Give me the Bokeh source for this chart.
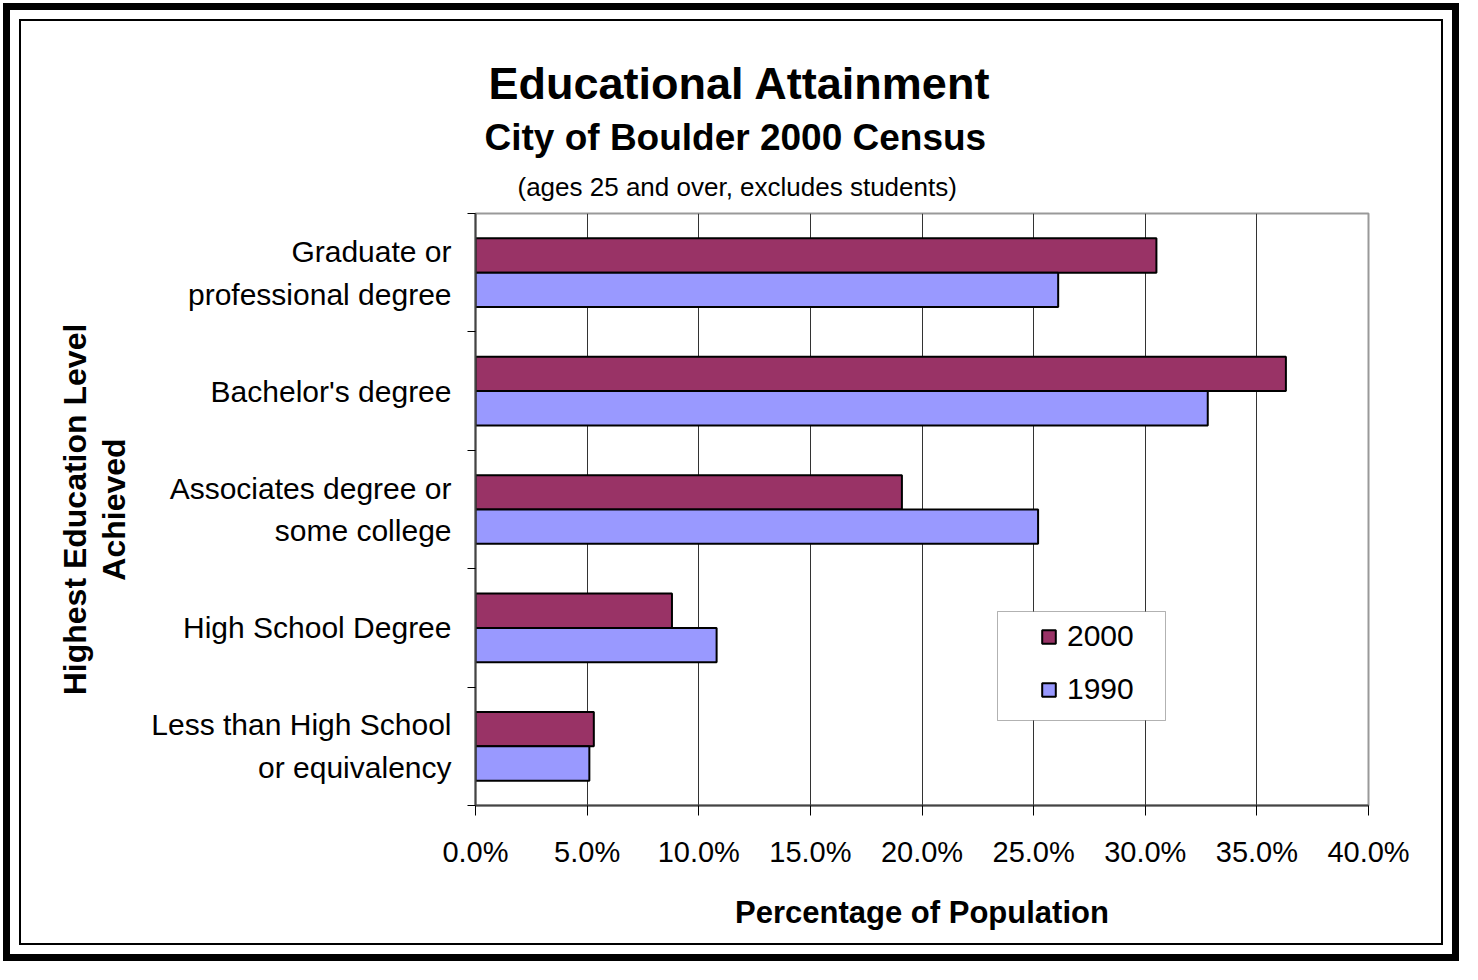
from bokeh.plotting import figure
from bokeh.models import (ColumnDataSource, BoxAnnotation, Legend, LegendItem,
                          FixedTicker, PrintfTickFormatter, Range1d, Title)
from bokeh.embed import file_html
from bokeh.resources import INLINE

# ---------------- data ----------------
categories = [
    "Graduate or\nprofessional degree",
    "Bachelor's degree",
    "Associates degree or\nsome college",
    "High School Degree",
    "Less than High School\nor equivalency",
]
pct_2000 = [30.5, 36.3, 19.1, 8.8, 5.3]
pct_1990 = [26.1, 32.8, 25.2, 10.8, 5.1]
x_ticks = [0, 5, 10, 15, 20, 25, 30, 35, 40]
series_names = ["2000", "1990"]

title_text = "Educational Attainment"
subtitle_text = "City of Boulder 2000 Census"
note_text = "(ages 25 and over, excludes students)"
x_title = "Percentage of Population"
y_title = "Highest Education Level\nAchieved"

FONT = "Liberation Sans"
C2000 = "#993366"
C1990 = "#9999FF"

W, H = 1462, 964
FL, FR, FT, FB = 475, 1368, 213, 805
XMAX, NCAT = 40, len(categories)

p = figure(width=W, height=H, output_backend="svg", toolbar_location=None,
           x_range=Range1d(0, XMAX), y_range=Range1d(0, NCAT),
           min_border_left=FL, min_border_right=W - FR,
           min_border_top=FT, min_border_bottom=H - FB)
p.background_fill_color = "white"
p.border_fill_alpha = 0
p.outline_line_color = "#999999"
p.outline_line_width = 2
p.styles = {
    "background-color": "white",
    "box-shadow": ("inset 0 0 0 3px white, inset 0 0 0 10px black, "
                   "inset 0 0 0 19px white, inset 0 0 0 21px black"),
}

px_per_x = (FR - FL) / XMAX
px_per_y = (FB - FT) / NCAT
def dx(px):
    return (px - FL) / px_per_x
def dy(py):
    return (FB - py) / px_per_y

centers = [NCAT - 0.5 - i for i in range(NCAT)]
bar_h = 0.29
src = ColumnDataSource(dict(
    y2000=[c + bar_h / 2 for c in centers],
    y1990=[c - bar_h / 2 for c in centers],
    v2000=pct_2000, v1990=pct_1990))

r2000 = p.hbar(y="y2000", left=0, right="v2000", height=bar_h, source=src,
               fill_color=C2000, line_color="black", line_width=2)
r1990 = p.hbar(y="y1990", left=0, right="v1990", height=bar_h, source=src,
               fill_color=C1990, line_color="black", line_width=2)

# x axis
xa = p.xaxis[0]
xa.ticker = FixedTicker(ticks=x_ticks)
xa.formatter = PrintfTickFormatter(format="%.1f%%")
xa.axis_line_color = "#444444"
xa.axis_line_width = 2
xa.major_tick_line_color = "black"
xa.major_tick_out = 10
xa.major_tick_in = 0
xa.minor_tick_line_color = None
xa.major_label_text_font = FONT
xa.major_label_text_font_size = "29px"
xa.major_label_text_color = "black"
xa.major_label_standoff = 20
xa.axis_label = x_title
xa.axis_label_text_font = FONT
xa.axis_label_text_font_size = "31px"
xa.axis_label_text_font_style = "bold"
xa.axis_label_text_color = "black"
xa.axis_label_standoff = 24

# y axis: labels at category centres, minor ticks at category boundaries
ya = p.yaxis[0]
ya.ticker = FixedTicker(ticks=centers, minor_ticks=list(range(NCAT + 1)))
ya.major_label_overrides = {c: categories[i] for i, c in enumerate(centers)}
ya.axis_line_color = "#444444"
ya.axis_line_width = 2
ya.major_tick_line_color = None
ya.major_tick_out = 0
ya.major_tick_in = 0
ya.minor_tick_line_color = "black"
ya.minor_tick_out = 8
ya.minor_tick_in = 0
ya.major_label_text_font = FONT
ya.major_label_text_font_size = "30px"
ya.major_label_text_color = "black"
ya.major_label_text_line_height = 1.3
ya.major_label_standoff = 16
ya.axis_label = y_title
ya.axis_label_text_font = FONT
ya.axis_label_text_font_size = "32px"
ya.axis_label_text_font_style = "bold"
ya.axis_label_text_color = "black"
ya.axis_label_text_line_height = 1.1
ya.axis_label_standoff = 16

p.xgrid.ticker = FixedTicker(ticks=x_ticks)
p.xgrid.grid_line_color = "#333333"
p.xgrid.grid_line_width = 1
p.ygrid.visible = False

# titles (added nearest-first)
p.add_layout(Title(text=note_text, text_font=FONT, text_font_size="26px",
                   text_font_style="normal", text_color="black",
                   align="left", offset=42, standoff=23), "above")
p.add_layout(Title(text=subtitle_text, text_font=FONT, text_font_size="37px",
                   text_font_style="bold", text_color="black",
                   align="left", offset=9, standoff=2), "above")
p.add_layout(Title(text=title_text, text_font=FONT, text_font_size="45px",
                   text_font_style="bold", text_color="black",
                   align="left", offset=13, standoff=10), "above")

# legend box + legend
p.add_layout(BoxAnnotation(left=dx(997), right=dx(1165), top=dy(611), bottom=dy(720),
                           fill_color="white", fill_alpha=1, line_color="black",
                           line_width=1))
legend = Legend(items=[LegendItem(label=series_names[0], renderers=[r2000]),
                       LegendItem(label=series_names[1], renderers=[r1990])],
                location=(1040 - 10 - FL, FB - 720 + 4),
                border_line_alpha=0, background_fill_alpha=0,
                glyph_width=17, glyph_height=17, label_text_font=FONT,
                label_text_font_size="30px", label_text_color="black",
                label_standoff=10, spacing=19,
                padding=10, label_height=30, margin=0)
p.add_layout(legend)

open("out.html", "w").write(file_html(p, INLINE))
